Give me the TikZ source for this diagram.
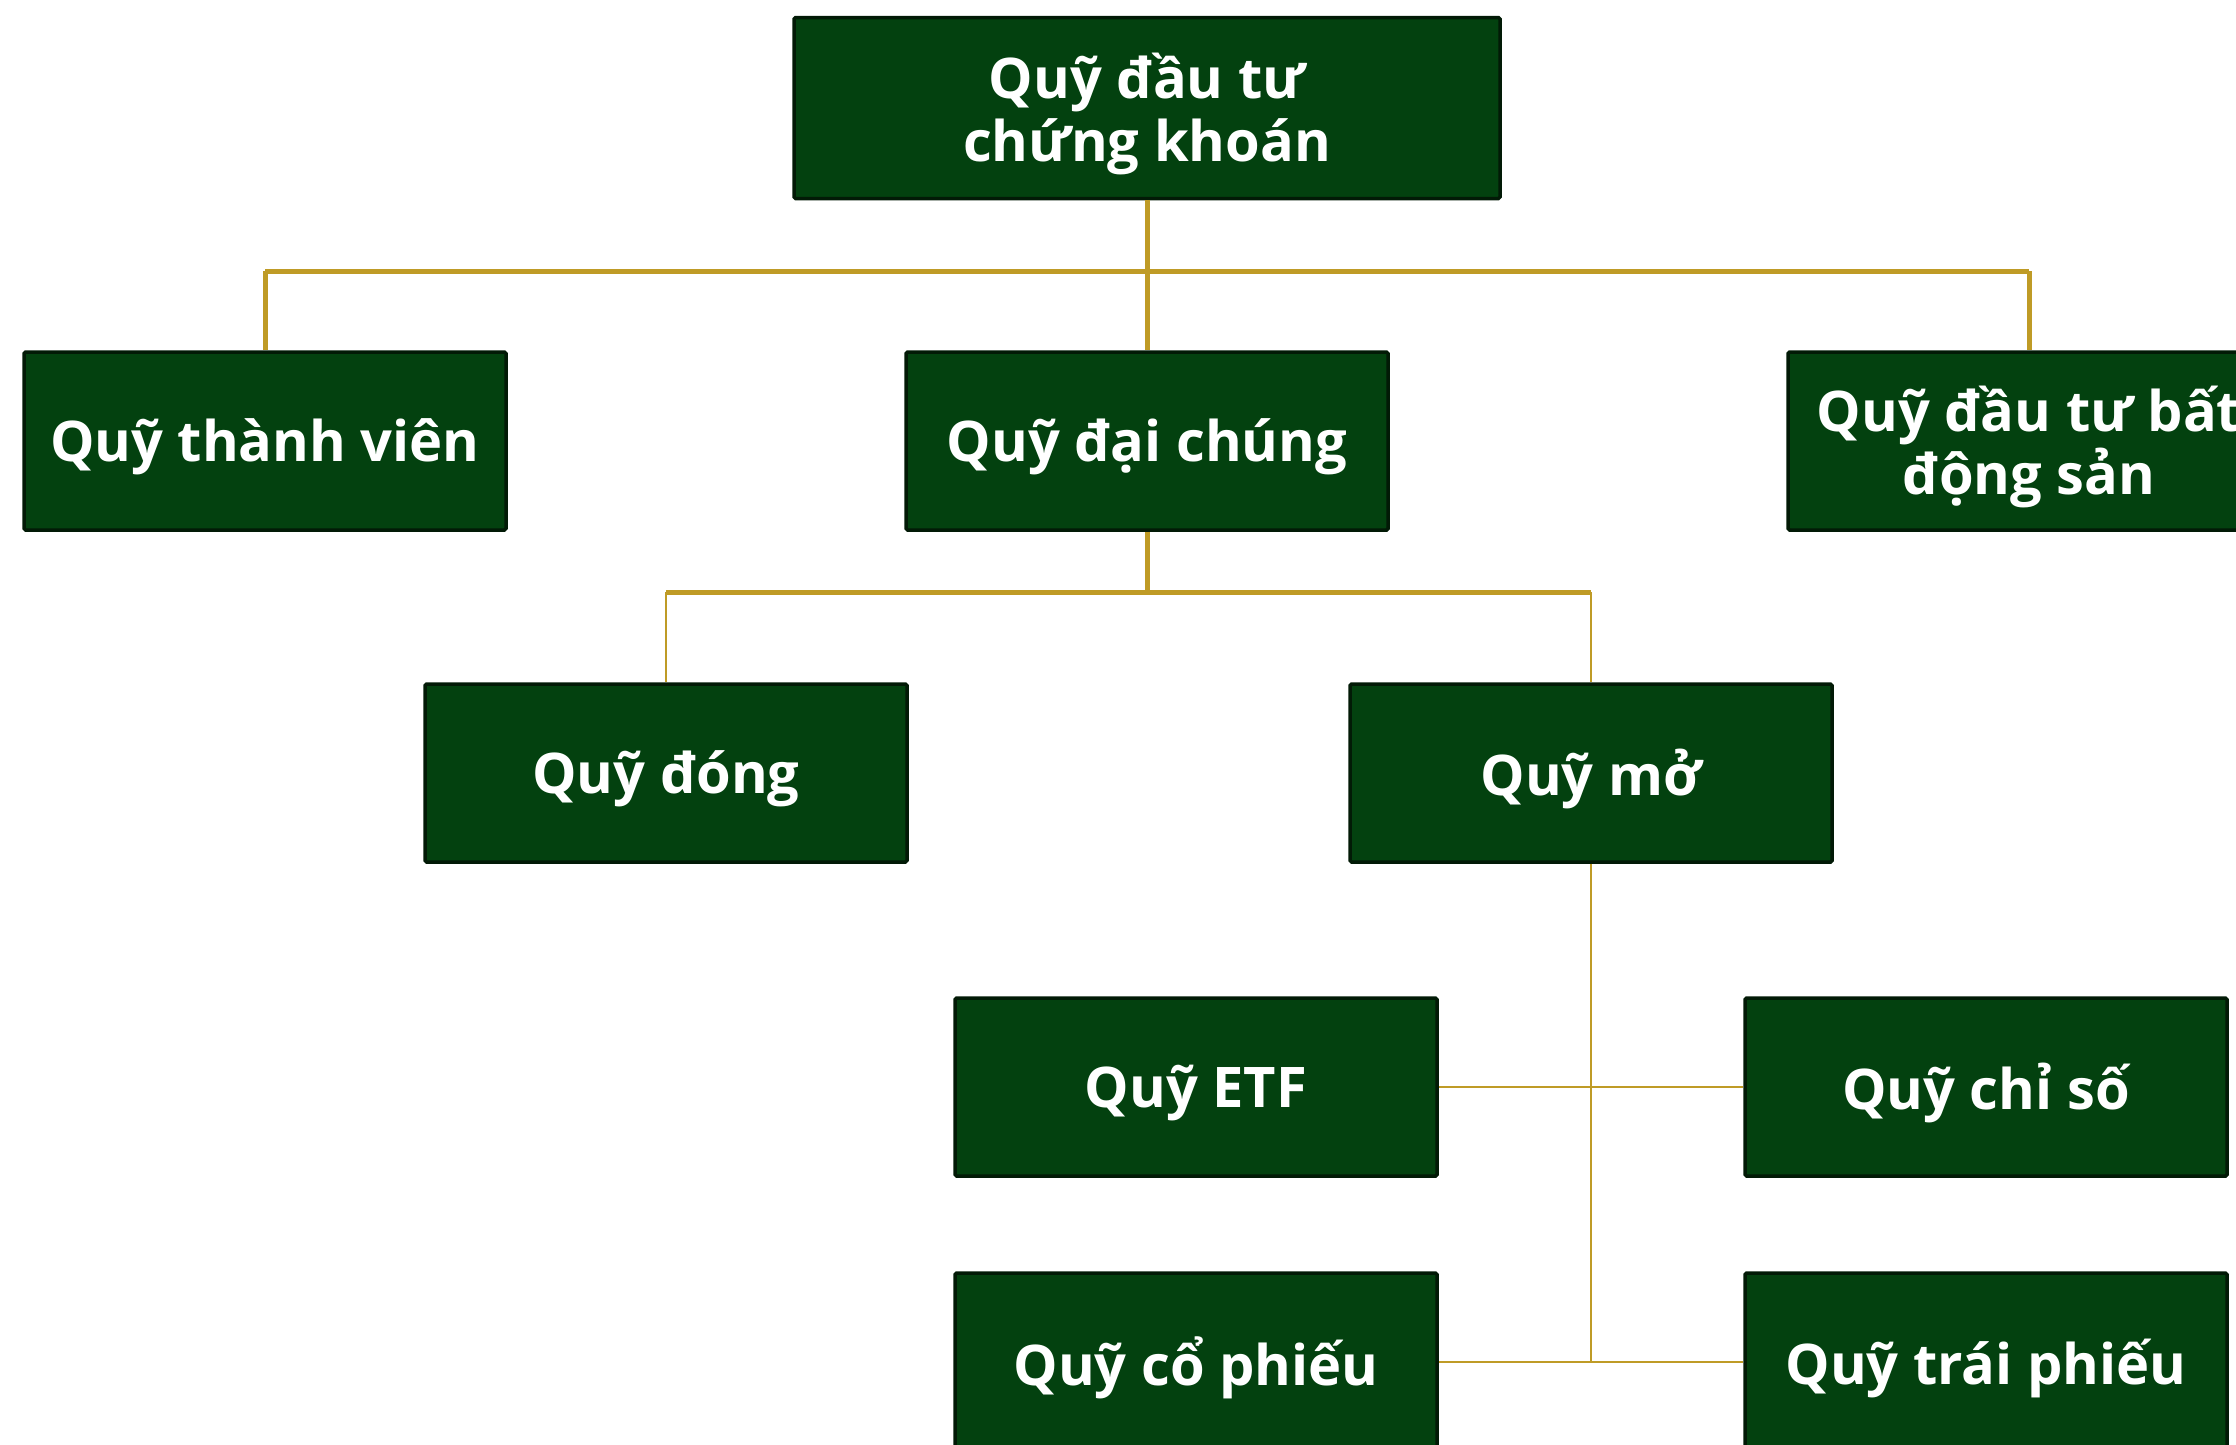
\documentclass[tikz,border=0pt]{standalone}
\usepackage{fontspec}
\setmainfont{Open Sans}
\definecolor{boxfill}{HTML}{03410F}
\definecolor{boxedge}{HTML}{021A06}
\definecolor{gold}{HTML}{BF9B26}
\begin{document}
\begin{tikzpicture}[x=1pt,y=-1pt,
  fund/.style={draw=boxedge,line width=3.5pt,fill=boxfill,rounded corners=1.5pt,
    minimum width=482pt,minimum height=178pt,inner sep=0pt,
    label={[fundtext]center:#1}},
  fundtext/.style={text=white,align=center,yshift=-6pt,inner sep=0pt,
    font=\fontsize{56}{63}\selectfont\bfseries},
  link/.style={draw=gold,line width=5pt},
  thin/.style={draw=gold,line width=2.5pt},
  thinner/.style={draw=gold,line width=2pt}]
\useasboundingbox (0,0) rectangle (2236,1444);
\clip (0,0) rectangle (2236,1444);
% nodes
\node[fund={Quỹ đầu tư\\chứng khoán},minimum width=706pt,minimum height=181pt] (root) at (1147,108) {};
\node[fund={Quỹ thành viên}] (tv)  at (265,441)  {};
\node[fund={Quỹ đại chúng}] (dc)  at (1147,441) {};
\node[fund={Quỹ đầu tư bất\\động sản}] (bds) at (2029,441) {};
\node[fund={Quỹ đóng}] (dong) at (666,773)  {};
\node[fund={Quỹ mở}] (mo)   at (1591,773) {};
\node[fund={Quỹ ETF}] (etf)  at (1196,1087) {};
\node[fund={Quỹ chỉ số}] (cs)   at (1986,1087) {};
\node[fund={Quỹ cổ phiếu}] (cp)   at (1196,1362) {};
\node[fund={Quỹ trái phiếu}] (tp)   at (1986,1362) {};
% coordinates
\coordinate (bus1) at (1147,271);
\coordinate (bus2) at (1147,592);
\coordinate (bus4) at (1591,1363);
% level 1
\draw[link] (root.south) -- (dc.north);
\draw[link] (tv.north |- bus1) -- (bds.north |- bus1);
\draw[link] (tv.north |- bus1) -- (tv.north);
\draw[link] (bds.north |- bus1) -- (bds.north);
% level 2
\draw[link] (dc.south) -- (bus2);
\draw[link] (dong.north |- bus2) -- (mo.north |- bus2);
\draw[thin] (dong.north |- bus2) -- (dong.north);
\draw[thin] (mo.north |- bus2) -- (mo.north);
% level 3
\draw[thinner] (mo.south) -- (bus4);
\draw[thin] (etf.east) -- (cs.west);
\draw[thin] (cp.east) -- (tp.west);
\end{tikzpicture}
\end{document}
